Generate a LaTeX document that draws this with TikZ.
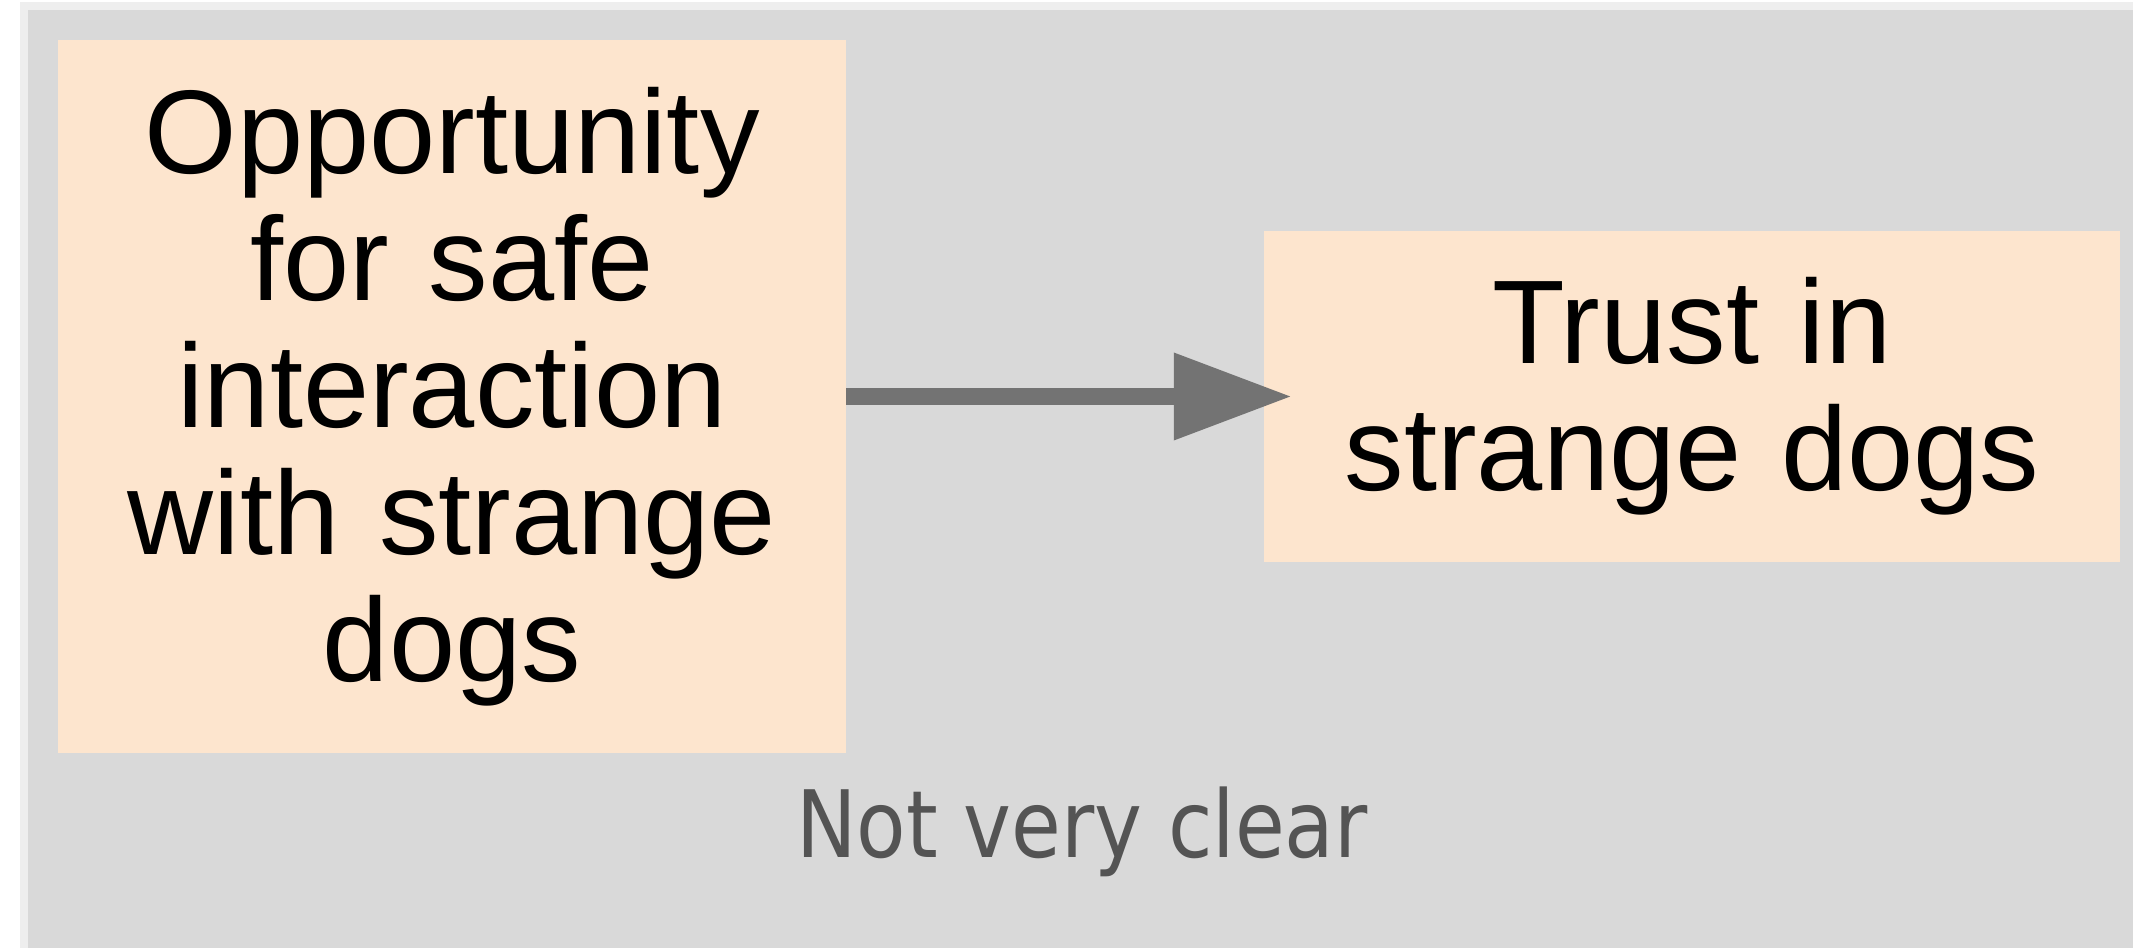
\documentclass[tikz,border=0pt]{standalone}
\usepackage{fontspec}
\usepackage{tikz}
\usetikzlibrary{arrows.meta,positioning}
\newfontfamily\factorfont{Liberation Sans}
\newfontfamily\clusterfont[FakeStretch=0.87]{DejaVu Sans}
\definecolor{clusterbg}{HTML}{D9D9D9}
\definecolor{clusteredge}{HTML}{EEEEEE}
\definecolor{factorbg}{HTML}{FDE5CE}
\definecolor{linkgray}{HTML}{737373}
\definecolor{labelgray}{HTML}{545454}
\tikzstyle{factor}=[fill=factorbg, inner sep=0pt, align=center,
                    font=\factorfont\fontsize{119}{127}\selectfont]
\tikzstyle{link-arrow}= [-{Triangle[length=118pt,width=83pt]}, line width=17pt,
                         draw=linkgray, shorten >=-28pt]
\tikzstyle{cluster-label}=[text=labelgray, inner sep=0pt, anchor=base,
                           font=\clusterfont\fontsize{93}{100}\selectfont]

\begin{document}
\begin{tikzpicture}[x=1pt,y=1pt]
\useasboundingbox (0,0) rectangle (2133,948);
\fill[clusteredge] (20,0) rectangle (2133,946);
\fill[clusterbg] (28,0) rectangle (2133,938);
\node[factor, text width=788pt, minimum height=713pt] (opp) at (452,551.5)
  {Opportunity\\for safe\\interaction\\with strange\\dogs};
\node[factor, text width=856pt, minimum height=331pt] (trust) at (1692,551.5)
  {Trust in\\strange dogs};
\draw[link-arrow] (opp) to (trust);
\node[cluster-label] (clarity) at (1082,91) {Not very clear};

\end{tikzpicture}
\end{document}
